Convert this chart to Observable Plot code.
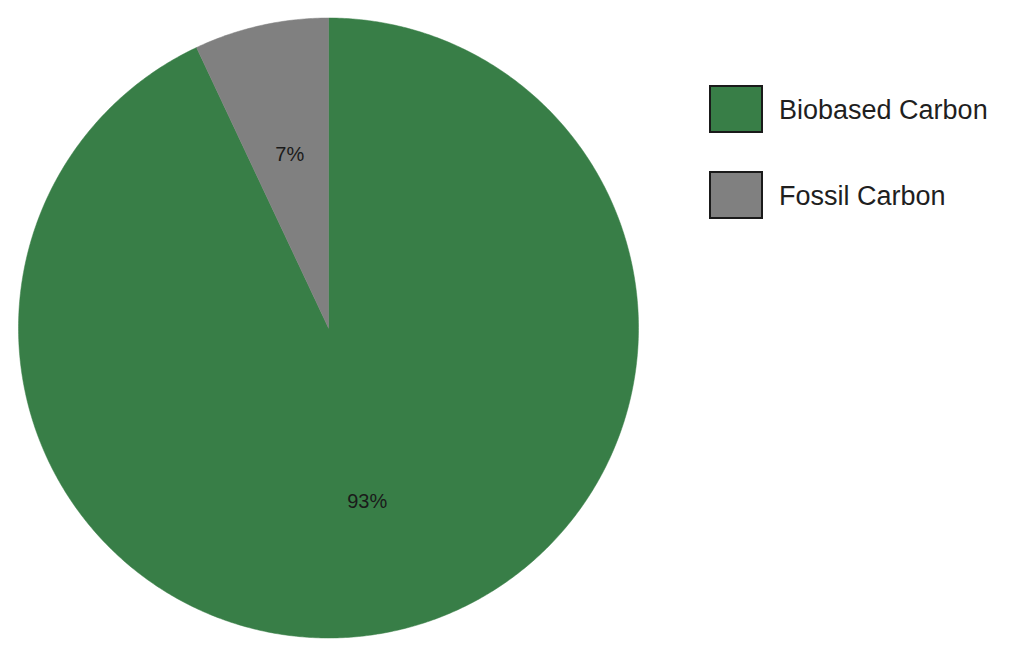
<!DOCTYPE html>
<html>
<head>
<meta charset="utf-8">
<script src="https://cdn.jsdelivr.net/npm/d3@7"></script>
<script src="https://cdn.jsdelivr.net/npm/@observablehq/plot@0.6"></script>
<style>
  html, body { margin: 0; padding: 0; background: #fff; }
  #wrap { position: relative; width: 1024px; height: 654px; font-family: "Liberation Sans", Arial, sans-serif; }
  #legend { position: absolute; left: 709px; top: 85px; }
  .item { display: flex; align-items: center; height: 48px; margin-bottom: 38px; }
  .sw { border: 2px solid #1a1a1a; box-sizing: border-box; width: 54px; height: 48px; }
  .lab { margin-left: 16px; font-size: 27px; color: #1f1f1f; position: relative; top: 1px; }
</style>
</head>
<body>
<div id="wrap"></div>
<script>
const categories = ["Biobased Carbon", "Fossil Carbon"];
const values = [93, 7];
const labels = ["93%", "7%"];
const colors = ["#387e47", "#808080"];

const cx = 328, cy = 327.5, r = 310;

const pie = d3.pie().sort(null).value(d => d.value)(
  categories.map((c, i) => ({category: c, value: values[i], label: labels[i]}))
);

// slice outlines (geometry from pie angles)
const pts = [];
for (const a of pie) {
  const c = a.data.category;
  pts.push({category: c, x: 0, y: 0});
  const n = Math.max(2, Math.ceil((a.endAngle - a.startAngle) / (Math.PI / 360)));
  for (let k = 0; k <= n; k++) {
    const t = a.startAngle + (a.endAngle - a.startAngle) * k / n;
    pts.push({category: c, x: Math.sin(t), y: Math.cos(t)});
  }
  pts.push({category: c, x: 0, y: 0});
}
const lr = 0.573;
const lbl = pie.map(a => {
  const t = (a.startAngle + a.endAngle) / 2;
  return {label: a.data.label, x: lr * Math.sin(t), y: lr * Math.cos(t)};
});

const chart = Plot.plot({
  width: 1024,
  height: 654,
  margin: 0,
  x: {domain: [-1, 1], range: [cx - r, cx + r], axis: null},
  y: {domain: [-1, 1], range: [cy + r, cy - r], axis: null},
  color: {domain: categories, range: colors},
  style: {background: "#fff", fontFamily: "Liberation Sans, Arial, sans-serif"},
  marks: [
    Plot.line(pts, {x: "x", y: "y", z: "category", fill: "category", stroke: "category", strokeWidth: 0.5}),
    Plot.text(lbl, {x: "x", y: "y", text: "label", fontSize: 20, fill: "#1a1a1a"})
  ]
});

const wrap = document.getElementById("wrap");
wrap.appendChild(chart);
const legend = document.createElement("div");
legend.id = "legend";
categories.forEach((c, i) => {
  const it = document.createElement("div");
  it.className = "item";
  const sw = document.createElement("div");
  sw.className = "sw";
  sw.style.background = colors[i];
  const lab = document.createElement("span");
  lab.className = "lab";
  lab.textContent = c;
  it.appendChild(sw); it.appendChild(lab);
  legend.appendChild(it);
});
wrap.appendChild(legend);
</script>
</body>
</html>
